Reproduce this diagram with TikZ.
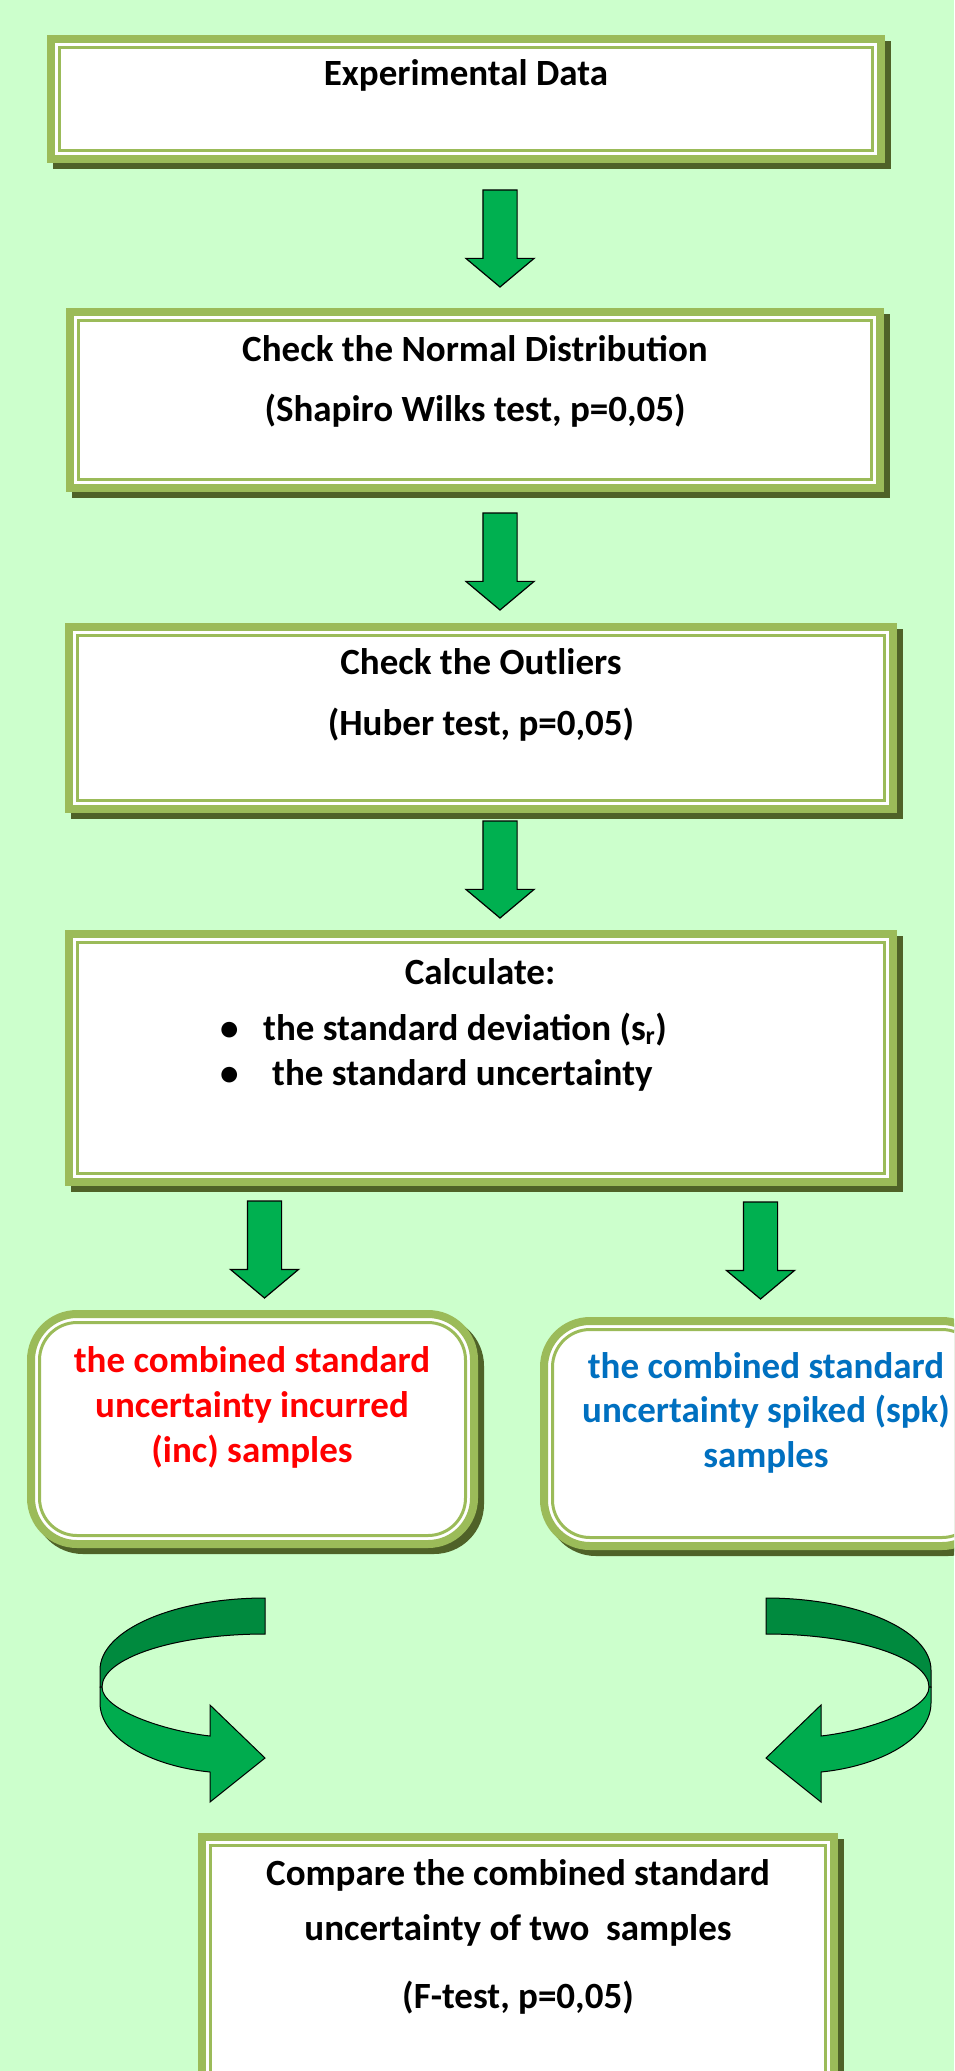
\documentclass[tikz,border=0pt]{standalone}
\usepackage{fontspec}
\setmainfont{Carlito}
\usetikzlibrary{shapes.arrows,shadows}
\definecolor{bggreen}{HTML}{CCFFCC}
\definecolor{framegreen}{HTML}{9BBB59}
\definecolor{shadowgreen}{HTML}{4F6228}
\definecolor{arrowgreen}{HTML}{00B050}
\definecolor{ribbondark}{HTML}{008A3E}
\definecolor{ribbonlight}{HTML}{00AC4E}
\definecolor{incred}{HTML}{FF0000}
\definecolor{spkblue}{HTML}{0070C0}
\tikzset{
  gbox/.style={rectangle,draw=framegreen,line width=8pt,fill=white,inner sep=0pt,outer sep=0pt,
               drop shadow={shadow xshift=6pt,shadow yshift=-6pt,fill=shadowgreen,draw=shadowgreen,opacity=1}},
  rbox/.style={gbox,rounded corners=46pt},
  gline/.style={draw=framegreen,line width=3pt},
  gtxt/.style={inner sep=0pt,anchor=base,font=\fontsize{37}{45}\selectfont\bfseries},
  blockarrow/.style={single arrow,draw=black,line width=1.2pt,fill=arrowgreen,
               minimum height=97pt,minimum width=67pt,single arrow head extend=17pt,
               single arrow tip angle=100,inner xsep=0pt,inner ysep=16.5pt,outer sep=0pt,
               rotate=-90,anchor=tip},
  ribbon/.style={draw=black,line width=1pt},
  curvedarrow/.pic={
    \filldraw[ribbon,fill=ribbondark] (0,0) .. controls (-91,0) and (-165,32) .. (-165,72) -- (-165,89)
      -- (-163,89) .. controls (-163,60) and (-90,36) .. (0,36) -- cycle;
    \filldraw[ribbon,fill=ribbonlight] (-165,89) -- (-165,105) .. controls (-165,140) and (-115,168) .. (-55,174)
      -- (-55,204) -- (0,160) -- (-55,107) -- (-55,138) .. controls (-100,133) and (-163,112) .. (-163,89) -- cycle;
  }}
\begin{document}
\begin{tikzpicture}[x=1pt,y=-1pt]
  \useasboundingbox (0,0) rectangle (954,2071);
  \clip (0,0) rectangle (954,2071);
  \fill[bggreen] (0,0) rectangle (954,2071);

  \node[gbox,minimum width=830pt,minimum height=120pt] (b1) at (466,99) {};
  \node[gbox,minimum width=810pt,minimum height=176pt] (b2) at (475,400) {};
  \node[gbox,minimum width=824pt,minimum height=182pt] (b3) at (481,718) {};
  \node[gbox,minimum width=824pt,minimum height=248pt] (b4) at (481,1058) {};
  \node[rbox,minimum width=443pt,minimum height=230pt] (inc) at (252.5,1429) {};
  \node[rbox,minimum width=444pt,minimum height=225pt] (spk) at (766,1433.5) {};
  \node[gbox,minimum width=632pt,minimum height=279pt] (bf) at (518,1976.5) {};
  \foreach \b in {b1,b2,b3,b4,bf}
    \draw[gline] ([shift={(8.5pt,-8.5pt)}]\b.north west) rectangle ([shift={(-8.5pt,8.5pt)}]\b.south east);
  \foreach \b in {inc,spk}
    \draw[gline,rounded corners=37.5pt] ([shift={(8.5pt,-8.5pt)}]\b.north west) rectangle ([shift={(-8.5pt,8.5pt)}]\b.south east);

  \node[gtxt] (t1) at (466,86) {Experimental Data};
  \node[gtxt] (t2a) at (475,361) {Check the Normal Distribution};
  \node[gtxt] (t2b) at (475,421) {(Shapiro Wilks test, p=0,05)};
  \node[gtxt] (t3a) at (481,674) {Check the Outliers};
  \node[gtxt] (t3b) at (481,735) {(Huber test, p=0,05)};
  \node[gtxt] (t4a) at (480,984) {Calculate:};
  \node[gtxt,anchor=base west] (t4b) at (220,1040) {\makebox[43pt][l]{•}the standard deviation (s\textsubscript{r})};
  \node[gtxt,anchor=base west] (t4c) at (220,1085) {\makebox[52pt][l]{•}the standard uncertainty};
  \node[gtxt,text=incred] (tia) at (252,1372) {the combined standard};
  \node[gtxt,text=incred] (tib) at (252,1417) {uncertainty incurred};
  \node[gtxt,text=incred] (tic) at (252,1462) {(inc) samples};
  \node[gtxt,text=spkblue] (tsa) at (766,1378) {the combined standard};
  \node[gtxt,text=spkblue] (tsb) at (766,1422) {uncertainty spiked (spk)};
  \node[gtxt,text=spkblue] (tsc) at (766,1467) {samples};
  \node[gtxt] (tfa) at (518,1885) {Compare the combined standard};
  \node[gtxt] (tfb) at (518,1940) {uncertainty of two\ \ samples};
  \node[gtxt] (tfc) at (518,2008) {(F-test, p=0,05)};

  \node[blockarrow] (a1) at (500,287) {};
  \node[blockarrow] (a2) at (500,610) {};
  \node[blockarrow] (a3) at (500,918) {};
  \node[blockarrow] (a4) at (264.5,1298) {};
  \node[blockarrow] (a5) at (760.5,1299) {};

  \pic at (265,1598) {curvedarrow};
  \pic[xscale=-1] at (766,1598) {curvedarrow};
\end{tikzpicture}
\end{document}
